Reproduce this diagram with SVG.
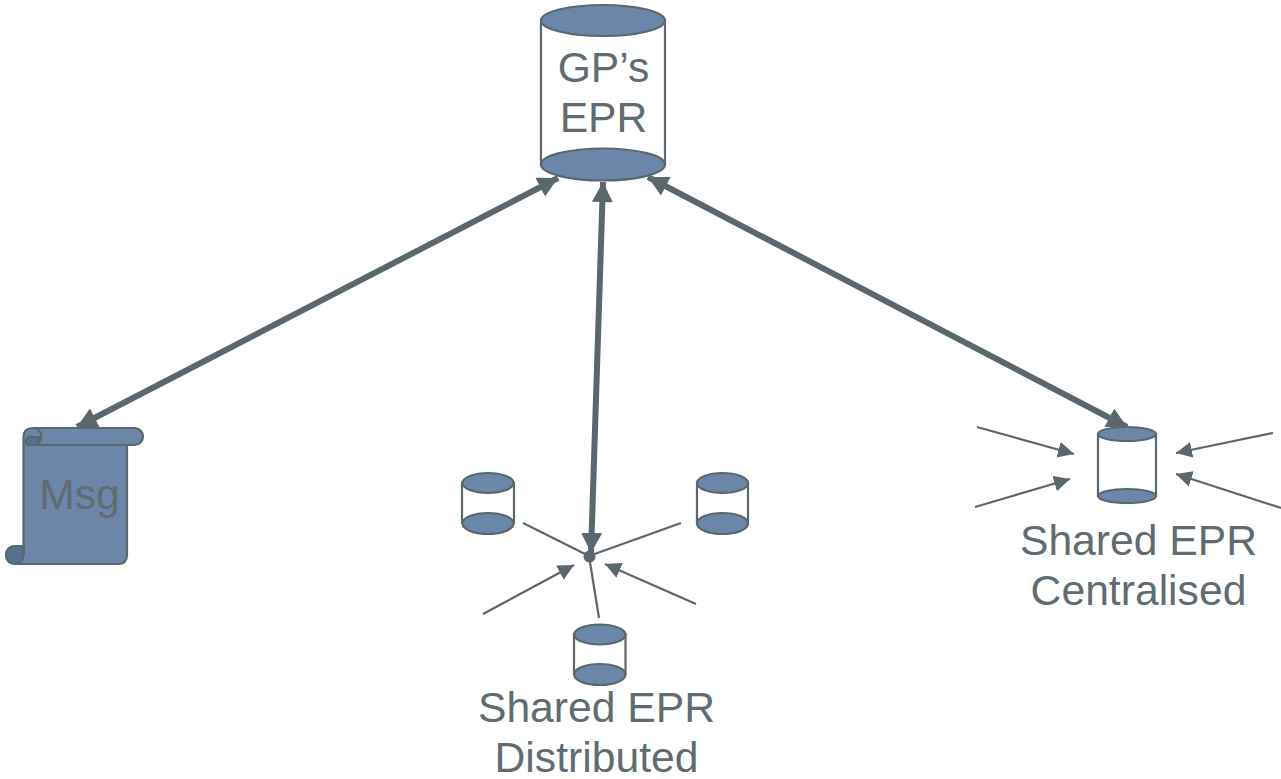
<svg xmlns="http://www.w3.org/2000/svg" width="1281" height="779" viewBox="0 0 1281 779">
<style>
.f{fill:#6b86a9;stroke:#5a676d;stroke-width:2.2}
.b{fill:#fff;stroke:#5a676d;stroke-width:2.2}
.r{fill:#56708f;stroke:#5a676d;stroke-width:2.2}
.t{font-family:"Liberation Sans",Arial,sans-serif;font-size:42.67px;fill:#5f6c72;text-anchor:middle}
.thick{fill:none;stroke:#5a676d;stroke-width:6;marker-start:url(#hs);marker-end:url(#h)}
.thin{fill:none;stroke:#5a676d;stroke-width:2.2}
.arr{marker-end:url(#a)}
</style>
<defs>
<marker id="h" markerUnits="userSpaceOnUse" markerWidth="22" markerHeight="22" refX="20" refY="10.500" orient="auto"><path d="M0 0L20 10.500L0 21z" fill="#5a676d"/></marker>
<marker id="hs" markerUnits="userSpaceOnUse" markerWidth="22" markerHeight="22" refX="0" refY="10.500" orient="auto"><path d="M20 0L0 10.500L20 21z" fill="#5a676d"/></marker>
<marker id="a" markerUnits="userSpaceOnUse" markerWidth="18" markerHeight="18" refX="16" refY="8" orient="auto"><path d="M0 0L16 8L0 16z" fill="#5a676d"/></marker>
</defs>
<g id="connectors">
<path class="thick" d="M77 427L558 178"/>
<path class="thick" d="M603 182L591 553"/>
<path class="thick" d="M648 177L1127 427"/>
<path class="thin" d="M523 523L589 556"/>
<path class="thin" d="M681 523L589 556"/>
<path class="thin" d="M599 618L589 556"/>
<path class="thin arr" d="M483 614L574 565"/>
<path class="thin arr" d="M696 604L605 564"/>
<path class="thin arr" d="M977 427L1074 454"/>
<path class="thin arr" d="M975 507L1070 479"/>
<path class="thin arr" d="M1273 433L1176 453"/>
<path class="thin arr" d="M1281 508L1176 474"/>
<circle cx="589.500" cy="556.500" r="6" fill="#5a676d"/>
</g>
<g id="gp-epr">
<path class="b" d="M541 20.500V164H665V20.500z"/>
<ellipse class="f" cx="603" cy="20.500" rx="62" ry="15.500"/>
<ellipse class="f" cx="603" cy="164.500" rx="62" ry="16"/>
<text class="t" x="603.500" y="82">GP’s</text>
<text class="t" x="603.500" y="132">EPR</text>
</g>
<g id="msg">
<path class="f" d="M23.500 555V437Q23.500 428 33 428H134.500A8.500 8.500 0 0 1 134.500 445H127V555Q127 564 118 564H15A9 9 0 0 1 15 546H23.500"/>
<path class="f" fill="none" d="M33 445H127"/>
<path class="r" d="M28 445A4 4 0 0 1 33 437H40A8.500 8.500 0 0 1 33 445z"/>
<path class="f" style="fill:none" d="M33 428A8.500 8.500 0 0 1 33 445"/>
<path class="r" d="M15 546H23.500V555A9 9 0 0 1 15 564A9 9 0 0 1 15 546z"/>
<text class="t" x="79.500" y="509">Msg</text>
</g>
<g id="dist-left">
<path class="b" d="M462 483V523H514V483z"/>
<ellipse class="f" cx="488" cy="483" rx="25.500" ry="10"/>
<ellipse class="f" cx="488" cy="523.500" rx="25.500" ry="10.500"/>
</g>
<g id="dist-right">
<path class="b" d="M697 483V523H748V483z"/>
<ellipse class="f" cx="722.500" cy="483" rx="25.500" ry="10"/>
<ellipse class="f" cx="722.500" cy="523.500" rx="25.500" ry="10.500"/>
</g>
<g id="dist-bottom">
<path class="b" d="M574 634V674H625.500V634z"/>
<ellipse class="f" cx="599.800" cy="634.500" rx="25.700" ry="10"/>
<ellipse class="f" cx="599.800" cy="674.500" rx="25.700" ry="10.500"/>
<text class="t" x="596.500" y="722">Shared EPR</text>
<text class="t" x="596.500" y="772">Distributed</text>
</g>
<g id="centralised">
<path class="b" d="M1098 434V496H1156V434z"/>
<ellipse class="f" cx="1127" cy="434" rx="29" ry="7"/>
<ellipse class="f" cx="1127" cy="496" rx="29" ry="7"/>
<text class="t" x="1138.500" y="555">Shared EPR</text>
<text class="t" x="1138.500" y="605">Centralised</text>
</g>
</svg>
